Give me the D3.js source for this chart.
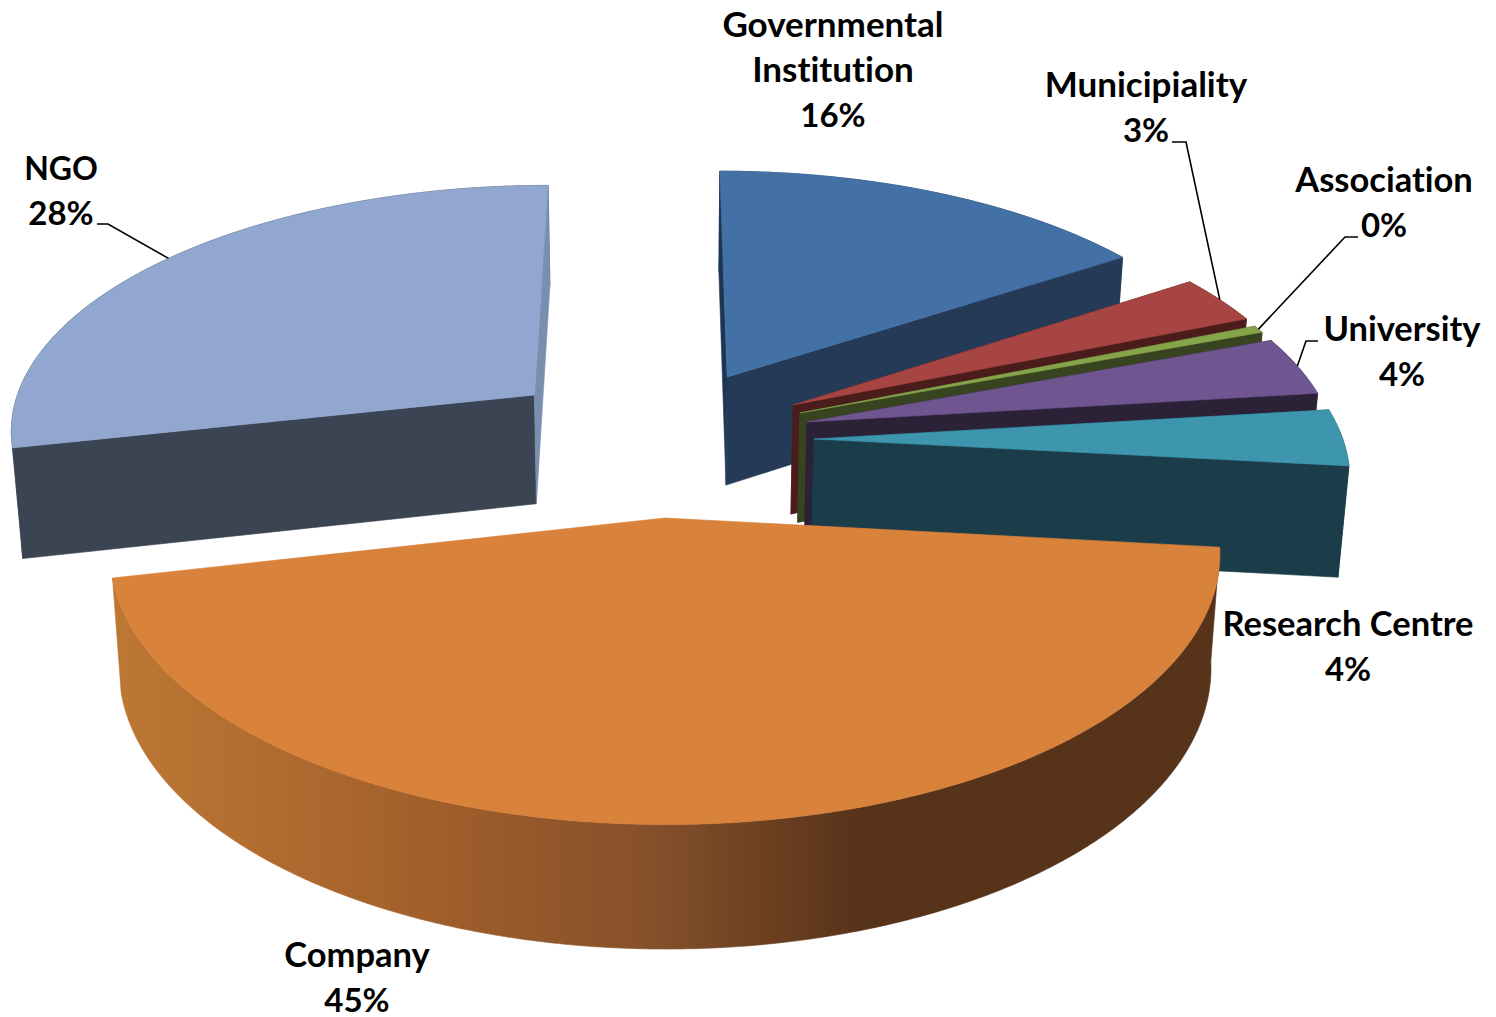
<!DOCTYPE html>
<html>
<head>
<meta charset="utf-8">
<script src="https://cdn.jsdelivr.net/npm/d3@7"></script>
<style>
  html, body { margin: 0; padding: 0; background: #fff; }
  text { font-family: Lato, "Open Sans", sans-serif; font-weight: 700; fill: #000; font-variant-ligatures: none; }
</style>
</head>
<body>
<svg id="chart" width="1496" height="1017"></svg>
<script>
// values (clockwise from 12 o'clock)
const sliceNames = ['Governmental Institution', 'Municipiality', 'Association', 'University', 'Research Centre', 'Company', 'NGO'];
const sliceValues = [15.67, 3.14, 0.47, 3.8, 3.64, 44.77, 28.51];
const sliceLabels = ['16%', '3%', '0%', '4%', '4%', '45%', '28%'];

// how far each slice apex is pulled out, in pie radii
const explodeX = [0.131, 0.256, 0.268, 0.2804, 0.291, 0.009, -0.243];
const explodeY = [-0.223, -0.1038, -0.0703, -0.033, 0.0366, 0.345, -0.146];

const topColors = ['#4371a6', '#a64541', '#86a44a', '#6f5690', '#3d96ae', '#d9823b', '#92a7cf'];
// null: the cut face looks away from the viewer, nothing to draw
const startWallColors = ['#1c3553', '#4b1c1c', '#384420', '#2c2238', '#1b3d49', null, '#3b4453'];
const endWallColors = ['#243a56', '#4b1c1c', '#384420', '#2c2238', '#1b3d49', null, '#7a8fb0'];
const rimColors = ['#243a56', '#4b1c1c', '#384420', '#2c2238', '#1b3d49', 'url(#companyRim)', '#3b4453'];

// back to front
const drawOrder = [0, 1, 2, 3, 4, 6, 5];

// label layout: centre x, first baseline
const labelLayout = [
  { x: 833, y: 36, size: 35, lines: ['Governmental', 'Institution'] },
  { x: 1146, y: 96, size: 35, lines: ['Municipiality'] },
  { x: 1384, y: 191, size: 34.5, lines: ['Association'] },
  { x: 1402, y: 340, size: 34.5, lines: ['University'] },
  { x: 1348, y: 635, size: 34.5, lines: ['Research Centre'] },
  { x: 357, y: 966, size: 34.5, lines: ['Company'] },
  { x: 61, y: 179, size: 32, lines: ['NGO'] }
];
const lineHeight = 45.5;
const percentSize = 33;

// leader lines start beside the percent label
const leaderLayout = [
  { slice: 1, from: [1172, 142], elbow: [1186, 142] },
  { slice: 2, from: [1358, 237], elbow: [1345, 237] },
  { slice: 3, from: [1318, 341], elbow: [1306, 341] },
  { slice: 6, from: [97, 224], elbow: [108, 224] }
];

// perspective of the pie plane, fitted to the picture
const persp = 0.125;
const xTop = d3.scaleLinear().domain([-1, 1]).range([660 - 526.4, 660 + 526.4]);
const yTop = d3.scaleLinear().domain([-1, 1]).range([430 - 244, 430 + 244]);
const xBottom = d3.scaleLinear().domain([-1, 1]).range([660 - 518, 660 + 518]);
const yBottom = d3.scaleLinear().domain([-1, 1]).range([540 - 253, 540 + 253]);

function project(px, py, level) {
  const w = 1 - persp * py;
  return level === 'top'
    ? [xTop(px / w), yTop(py / w)]
    : [xBottom(px / w), yBottom(py / w)];
}

const pie = d3.pie().sort(null).value(d => d);
const slices = pie(sliceValues).map((d, i) => ({
  index: i,
  start: d.startAngle,
  end: d.endAngle,
  mid: (d.startAngle + d.endAngle) / 2,
  cx: explodeX[i],
  cy: explodeY[i]
}));

function rimPoint(s, a, level) {
  return project(s.cx + Math.sin(a), s.cy - Math.cos(a), level);
}
function apex(s, level) {
  return project(s.cx, s.cy, level);
}
function arcAngles(s) {
  const n = Math.max(2, Math.ceil((s.end - s.start) / 0.01));
  return d3.range(n + 1).map(i => s.start + (s.end - s.start) * i / n);
}

const line = d3.line();
const svg = d3.select('#chart');

const grad = svg.append('defs').append('linearGradient')
  .attr('id', 'companyRim')
  .attr('gradientUnits', 'userSpaceOnUse')
  .attr('x1', 120).attr('x2', 1210).attr('y1', 0).attr('y2', 0);
grad.append('stop').attr('offset', 0).attr('stop-color', '#bd7734');
grad.append('stop').attr('offset', 0.27).attr('stop-color', '#a3602b');
grad.append('stop').attr('offset', 0.49).attr('stop-color', '#85502a');
grad.append('stop').attr('offset', 0.68).attr('stop-color', '#57331a');
grad.append('stop').attr('offset', 1).attr('stop-color', '#57331a');

function face(g, pts, color) {
  if (!color) return;
  g.append('path')
    .attr('d', line(pts) + 'Z')
    .attr('fill', color)
    .attr('stroke', color)
    .attr('stroke-width', 0.6)
    .attr('stroke-linejoin', 'round');
}

drawOrder.forEach(i => {
  const s = slices[i];
  const g = svg.append('g').attr('class', 'slice').attr('data-name', sliceNames[i]);
  const angles = arcAngles(s);

  // outer wall
  const rim = angles.map(a => rimPoint(s, a, 'top'))
    .concat(angles.slice().reverse().map(a => rimPoint(s, a, 'bottom')));
  face(g, rim, rimColors[i]);

  // cut faces
  face(g, [apex(s, 'top'), rimPoint(s, s.start, 'top'), rimPoint(s, s.start, 'bottom'), apex(s, 'bottom')], startWallColors[i]);
  face(g, [apex(s, 'top'), rimPoint(s, s.end, 'top'), rimPoint(s, s.end, 'bottom'), apex(s, 'bottom')], endWallColors[i]);

  // top
  face(g, [apex(s, 'top')].concat(angles.map(a => rimPoint(s, a, 'top'))), topColors[i]);
});

// leader lines
svg.append('g').selectAll('path')
  .data(leaderLayout)
  .join('path')
  .attr('d', d => line([d.from, d.elbow, rimPoint(slices[d.slice], slices[d.slice].mid, 'top')]))
  .attr('fill', 'none')
  .attr('stroke', '#000')
  .attr('stroke-width', 1.6);

// data labels
const labels = svg.append('g').selectAll('text')
  .data(labelLayout)
  .join('text')
  .attr('text-anchor', 'middle');
labels.each(function (d, i) {
  const t = d3.select(this);
  d.lines.concat(sliceLabels[i]).forEach((str, k) => {
    const isName = k < d.lines.length;
    t.append('tspan')
      .attr('x', d.x)
      .attr('y', d.y + k * lineHeight + (isName ? 0.7 : 0))
      .attr('font-size', isName ? d.size : percentSize)
      .text(str);
  });
});
</script>
</body>
</html>
